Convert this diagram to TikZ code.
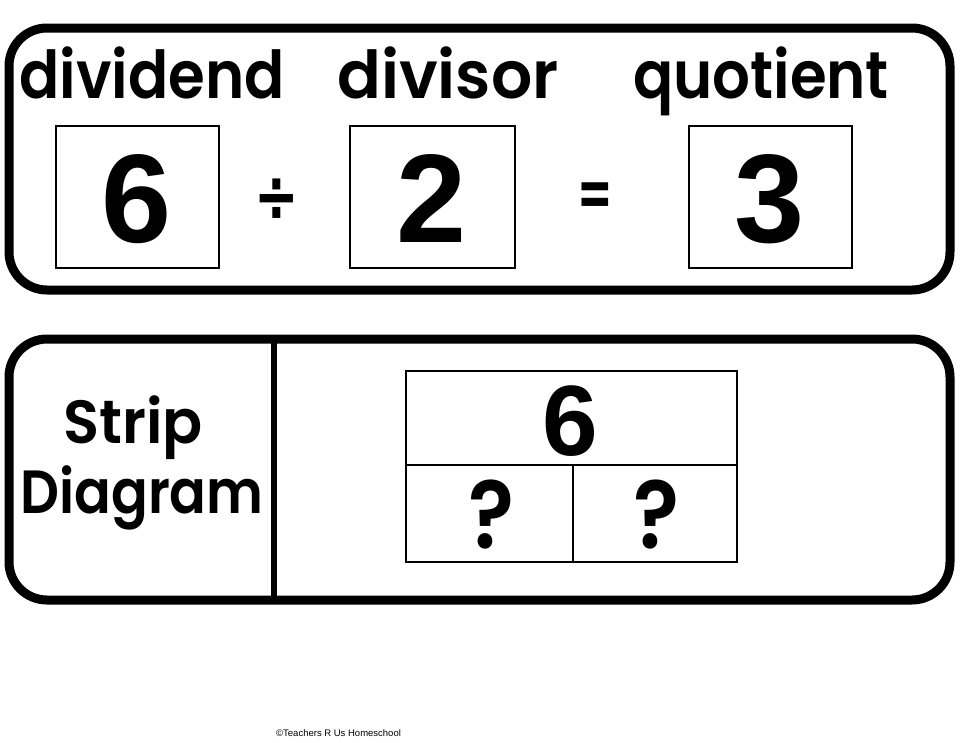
\documentclass[tikz,border=0pt]{standalone}
\usepackage{fontspec}
\setmainfont{Liberation Sans}
\newfontfamily\lab{Poppins SemiBold}
\newfontfamily\dig{Liberation Sans}
\newfontfamily\sym{DejaVu Sans}
\begin{document}
\begin{tikzpicture}[x=1pt,y=-1pt,
  panel/.style={line width=9pt,rounded corners=38pt},
  numbox/.style={line width=2pt},
  word/.style={inner sep=0pt,anchor=base,font=\lab\fontsize{66}{66}\selectfont},
  bignum/.style={inner sep=0pt,anchor=base,font=\dig\bfseries\fontsize{126}{126}\selectfont},
  cell/.style={draw,line width=2.5pt,minimum width=331pt,inner sep=0pt}]
\useasboundingbox (0,0) rectangle (960,742);
% top panel
\draw[panel] (9,28) rectangle (950,290);
\node[word] (ldvd) at (152,98) {\scalebox{0.9}[1]{dividend}};
\node[word] (ldvs) at (448,98) {\scalebox{0.98}[1]{divisor}};
\node[word] (lquo) at (761,98) {\scalebox{0.9}[1]{quotient}};
\node[draw,numbox,minimum width=163pt,minimum height=142pt] (b6) at (137.5,197) {};
\node[draw,numbox,minimum width=165pt,minimum height=142pt] (b2) at (432.5,197) {};
\node[draw,numbox,minimum width=163pt,minimum height=142pt] (b3) at (770.5,197) {};
\node[bignum] (n6) at (137,242) {6};
\node[bignum] (n2) at (432,242) {2};
\node[bignum] (n3) at (770,242) {3};
\node[inner sep=0pt,font=\sym\bfseries\fontsize{56}{56}\selectfont] (div) at (277,200) {\scalebox{0.95}[1.3]{÷}};
\node[inner sep=0pt,font=\sym\bfseries\fontsize{50}{50}\selectfont] (eq) at (595,200) {\scalebox{0.85}[1.4]{=}};
% bottom panel
\draw[panel] (9,339) rectangle (950,600);
\coordinate (dt) at (274,339);
\coordinate (db) at (274,600);
\draw[line width=6pt] (dt) -- (db);
\node[word,font=\lab\fontsize{61}{61}\selectfont] (strip) at (133,443) {\scalebox{0.97}[1]{Strip}};
\node[word,font=\lab\fontsize{61}{61}\selectfont] (diag) at (142,513) {\scalebox{0.89}[1]{Diagram}};
\node[cell,minimum height=94pt] (whole) at (571.5,418) {};
\node[cell,minimum width=167pt,minimum height=97pt] (p1) at (489.5,513.5) {};
\node[cell,minimum width=164pt,minimum height=97pt] (p2) at (655,513.5) {};
\node[bignum,font=\dig\bfseries\fontsize{100}{100}\selectfont] (s6) at (570,455) {6};
\node[word,font=\lab\fontsize{95}{95}\selectfont] (q1) at (491,548) {\scalebox{0.9}[1]{?}};
\node[word,font=\lab\fontsize{95}{95}\selectfont] (q2) at (656,548) {\scalebox{0.9}[1]{?}};
\node[inner sep=0pt,anchor=base west,font=\fontsize{9.5}{9.5}\selectfont] (copy) at (276,736) {©Teachers R Us Homeschool};
\end{tikzpicture}
\end{document}
